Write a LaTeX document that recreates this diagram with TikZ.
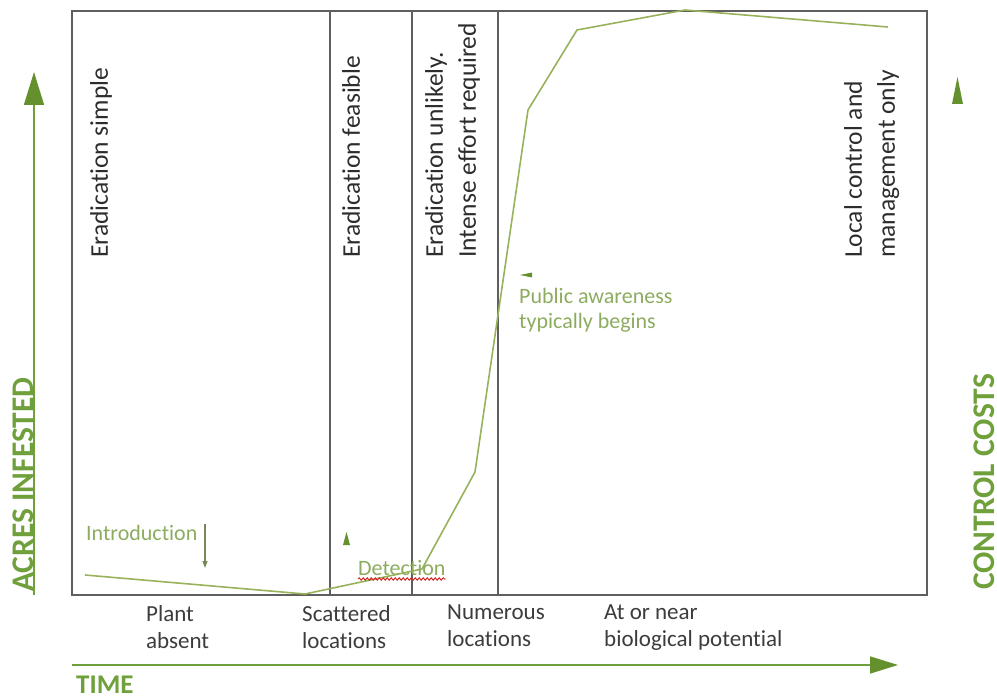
\documentclass[tikz,border=0pt]{standalone}
\usepackage{fontspec}
\setmainfont{Carlito}[RawFeature={-liga;-clig;-dlig;-calt}]
\usetikzlibrary{arrows.meta,decorations.pathmorphing}
\definecolor{axisgreen}{RGB}{112,160,60}
\definecolor{headgreen}{RGB}{100,145,45}
\definecolor{curvegreen}{RGB}{152,178,92}
\definecolor{notegreen}{RGB}{140,172,95}
\definecolor{boxgray}{RGB}{95,95,95}
\definecolor{textdark}{RGB}{45,45,45}
\definecolor{labeldark}{RGB}{60,60,60}
\definecolor{wavered}{RGB}{215,40,40}
\definecolor{pointergray}{RGB}{120,135,90}
\begin{document}
\begin{tikzpicture}[x=1pt,y=-1pt,
  phase/.style={rotate=90, anchor=north west, inner sep=0pt, align=left, text=textdark, font=\fontsize{25.5}{33}\selectfont},
  stage/.style={anchor=north west, inner sep=0pt, align=left, text=labeldark, font=\fontsize{23}{27}\selectfont},
  axislabel/.style={anchor=base west, inner sep=0pt, text=axisgreen, font=\bfseries\fontsize{31.5}{31.5}\selectfont},
  note/.style={inner sep=0pt, align=left, text=notegreen, font=\fontsize{22}{25}\selectfont},
  frame/.style={draw=boxgray, line width=1.4pt},
  axisline/.style={draw=axisgreen, line width=1.6pt},
  headfill/.style={fill=headgreen, draw=none},
  curveline/.style={draw=curvegreen, line width=1.6pt, line join=round},
]
\useasboundingbox (0,0) rectangle (997,698);

% frame and dividers
\draw[frame] (72,11) rectangle (927,595);
\draw[frame] (330,11) -- (330,595);
\draw[frame] (412,11) -- (412,595);
\draw[frame] (498,11) -- (498,595);

% phase texts
\node[phase] (p1) at (90,258) {Eradication simple};
\node[phase] (p2) at (342,258) {Eradication feasible};
\node[phase] (p3) at (425,258) {Eradication unlikely.\\Intense effort required};
\node[phase] (p4) at (844,258) {Local control and\\management only};

% stage labels
\node[stage] (s1) at (146,605) {Plant\\absent};
\node[stage] (s2) at (302,605) {Scattered\\locations};
\node[stage] (s3) at (447,605) {Numerous\\locations};
\node[stage] (s4) at (604,605) {At or near\\biological potential};

% curve
\coordinate (c1) at (85,575);
\coordinate (c2) at (305,594);
\coordinate (c3) at (422,569);
\coordinate (c4) at (475,472);
\coordinate (c5) at (528,110);
\coordinate (c6) at (577,30);
\coordinate (c7) at (685,10);
\coordinate (c8) at (888,27);
\draw[curveline] (c1) -- (c2) -- (c3) -- (c4) -- (c5) -- (c6) -- (c7) -- (c8);

% axes
\coordinate (yb) at (34,595);
\coordinate (yt) at (34,72);
\coordinate (xl) at (72,665);
\coordinate (xr) at (898,665);
\draw[axisline, -{Triangle[length=33pt,width=20pt,fill=headgreen,color=headgreen]}] (yb) -- (yt);
\draw[axisline, -{Triangle[length=28pt,width=17pt,fill=headgreen,color=headgreen]}] (xl) -- (xr);

\node[axislabel, rotate=90] (acres) at (33,592) {ACRES INFESTED};
\node[axislabel, rotate=90] (costs) at (994,590) {CONTROL COSTS};
\node[axislabel, font=\bfseries\fontsize{27}{27}\selectfont] (time) at (76,693) {TIME};

% lone arrowheads
\path[headfill] (957.5,77) -- (963,104) -- (952,104) -- cycle;
\path[headfill] (346.5,532) -- (350,545) -- (343,545) -- cycle;
\path[headfill] (520,275) -- (532,272.5) -- (532,277.5) -- cycle;

% notes
\node[note, anchor=base west] (intro) at (86,540) {Introduction};
\coordinate (ia) at (205,524);
\coordinate (ib) at (205,568);
\draw[pointergray, line width=1.2pt, -{Triangle[length=7pt,width=5pt]}] (ia) -- (ib);

\node[note, anchor=base west] (det) at (358,575) {Detection};
\draw[wavered, line width=1pt, decorate, decoration={snake, amplitude=1.2pt, segment length=4pt}]
  ([yshift=-4pt]det.base west) -- ([yshift=-4pt]det.base east);

\node[note, anchor=north west] (pub) at (519,288) {Public awareness\\typically begins};
\end{tikzpicture}
\end{document}
